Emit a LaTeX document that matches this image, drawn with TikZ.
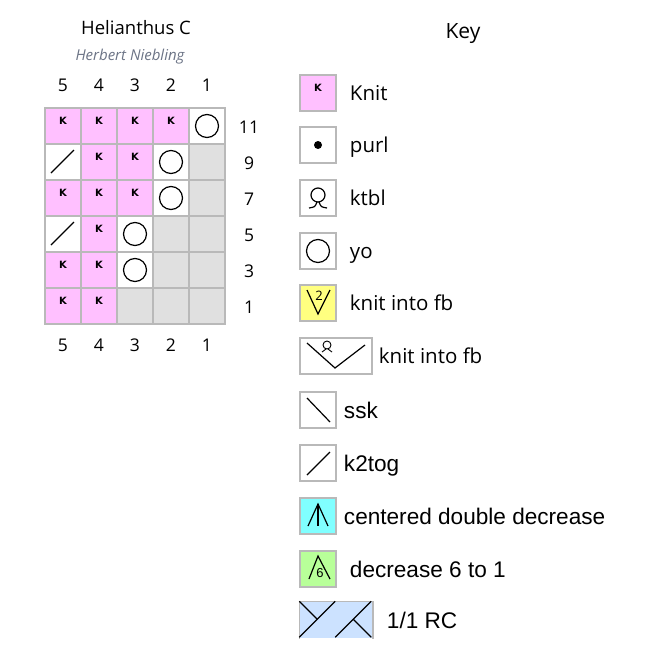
\documentclass[tikz,border=0pt]{standalone}
\usepackage{fontspec}
\setmainfont{Open Sans}
\newfontfamily\arialfont{Liberation Sans}
\newfontfamily\kglyphfont{DejaVu Sans}
\usetikzlibrary{positioning}

\definecolor{grid}{RGB}{185,185,185}
\definecolor{knitpink}{RGB}{255,192,255}
\definecolor{nostitch}{RGB}{224,224,224}
\definecolor{kfbyellow}{RGB}{255,255,128}
\definecolor{cddcyan}{RGB}{128,255,255}
\definecolor{decgreen}{RGB}{184,255,153}
\definecolor{rcblue}{RGB}{204,226,255}
\definecolor{signature}{RGB}{108,116,134}

\tikzstyle{cell} = [draw=grid, line width=1.5pt, minimum size=36pt, inner sep=0pt, fill=white]
\tikzstyle{knit} = [cell, fill=knitpink, label={[font=\kglyphfont\bfseries\fontsize{10}{10}\selectfont, yshift=5pt]center:K}]
\tikzstyle{none} = [cell, fill=nostitch]
\tikzstyle{sym} = [draw=black, line width=1.2pt]
\tikzstyle{num} = [font=\fontsize{17.5}{20}\selectfont, inner sep=0pt, text height=12.5pt, text depth=0pt]
\tikzstyle{lbl} = [font=\fontsize{20.5}{24}\selectfont, inner sep=0pt, text height=14.6pt, text depth=0pt]
\tikzstyle{albl} = [font=\arialfont\fontsize{22.6}{26}\selectfont, inner sep=0pt, text height=16.2pt, text depth=0pt]

\begin{document}
\begin{tikzpicture}[x=1pt, y=-1pt]
    \fill[white] (0,0) rectangle (650,669);
    \useasboundingbox (0,0) rectangle (650,669);

    % heading
    \node[font=\fontsize{18.5}{22}\selectfont] (title) at (136,28) {Helianthus C};
    \node[font=\itshape\fontsize{15}{18}\selectfont, text=signature] (designer) at (130,57) {Herbert Niebling};
    \node[font=\fontsize{21}{25}\selectfont] (keyhead) at (463,34) {Key};

    % column numbers
    \node[num] (top5) at (63,85) {5};
    \node[num] (top4) at (99,85) {4};
    \node[num] (top3) at (135,85) {3};
    \node[num] (top2) at (171,85) {2};
    \node[num] (top1) at (207,85) {1};
    \node[num] (bot5) at (63,345) {5};
    \node[num] (bot4) at (99,345) {4};
    \node[num] (bot3) at (135,345) {3};
    \node[num] (bot2) at (171,345) {2};
    \node[num] (bot1) at (207,345) {1};

    % chart, row 11 at the top
    \node[knit] (r11c5) at (63,126) {};
    \node[knit] (r11c4) at (99,126) {};
    \node[knit] (r11c3) at (135,126) {};
    \node[knit] (r11c2) at (171,126) {};
    \node[cell] (r11c1) at (207,126) {};

    \node[cell] (r9c5) at (63,162) {};
    \node[knit] (r9c4) at (99,162) {};
    \node[knit] (r9c3) at (135,162) {};
    \node[cell] (r9c2) at (171,162) {};
    \node[none] (r9c1) at (207,162) {};

    \node[knit] (r7c5) at (63,198) {};
    \node[knit] (r7c4) at (99,198) {};
    \node[knit] (r7c3) at (135,198) {};
    \node[cell] (r7c2) at (171,198) {};
    \node[none] (r7c1) at (207,198) {};

    \node[cell] (r5c5) at (63,234) {};
    \node[knit] (r5c4) at (99,234) {};
    \node[cell] (r5c3) at (135,234) {};
    \node[none] (r5c2) at (171,234) {};
    \node[none] (r5c1) at (207,234) {};

    \node[knit] (r3c5) at (63,270) {};
    \node[knit] (r3c4) at (99,270) {};
    \node[cell] (r3c3) at (135,270) {};
    \node[none] (r3c2) at (171,270) {};
    \node[none] (r3c1) at (207,270) {};

    \node[knit] (r1c5) at (63,306) {};
    \node[knit] (r1c4) at (99,306) {};
    \node[none] (r1c3) at (135,306) {};
    \node[none] (r1c2) at (171,306) {};
    \node[none] (r1c1) at (207,306) {};

    % yarn overs and k2tog in the chart
    \draw[sym] (r11c1.center) circle (11.5pt);
    \draw[sym] (r9c2.center) circle (11.5pt);
    \draw[sym] (r7c2.center) circle (11.5pt);
    \draw[sym] (r5c3.center) circle (11.5pt);
    \draw[sym] (r3c3.center) circle (11.5pt);
    \draw[sym] (r9c5.center) +(-12,11) -- +(11,-12);
    \draw[sym] (r5c5.center) +(-12,11) -- +(11,-12);

    % row numbers
    \node[num] (row11) at (249,127) {11};
    \node[num] (row9) at (249,163) {9};
    \node[num] (row7) at (249,199) {7};
    \node[num] (row5) at (249,235) {5};
    \node[num] (row3) at (249,271) {3};
    \node[num] (row1) at (249,307) {1};

    % key boxes
    \node[knit] (kKnit) at (318,93) {};
    \node[cell] (kPurl) at (318,145) {};
    \node[cell] (kKtbl) at (318,198) {};
    \node[cell] (kYo) at (318,251) {};
    \node[cell, fill=kfbyellow] (kKfb) at (318,303) {};
    \node[cell, minimum width=72pt] (kKfbW) at (336,356) {};
    \node[cell] (kSsk) at (318,410) {};
    \node[cell] (kKtog) at (318,463) {};
    \node[cell, fill=cddcyan] (kCdd) at (318,516) {};
    \node[cell, fill=decgreen] (kDec) at (318,569) {};
    \node[cell, draw=none, fill=rcblue, minimum width=72pt] (kRc) at (336,620) {};
    \draw[draw=grid, line width=1.5pt] (kRc.south west) |- (kRc.north east) -- (kRc.south east);

    % key labels
    \node[lbl, right=13pt of kKnit] (tKnit) {Knit};
    \node[lbl, right=13pt of kPurl] (tPurl) {purl};
    \node[lbl, right=13pt of kKtbl] (tKtbl) {ktbl};
    \node[lbl, right=13pt of kYo] (tYo) {yo};
    \node[lbl, right=13pt of kKfb] (tKfb) {knit into fb};
    \node[lbl, right=6pt of kKfbW] (tKfbW) {knit into fb};
    \node[albl, right=7pt of kSsk] (tSsk) {ssk};
    \node[albl, right=7pt of kKtog] (tKtog) {k2tog};
    \node[albl, right=7pt of kCdd] (tCdd) {centered double decrease};
    \node[albl, right=13pt of kDec] (tDec) {decrease 6 to 1};
    \node[albl, right=14pt of kRc] (tRc) {1/1 RC};

    % key symbols
    \fill (kPurl.center) circle (4pt);
    \begin{scope}[shift={(kKtbl.center)}]
        \draw[sym] (0,-3) circle (7pt);
        \draw[sym] (-1,4) .. controls (-3,9) .. (-9,10);
        \draw[sym] (1,4) .. controls (3,9) .. (9,10);
    \end{scope}
    \draw[sym] (kYo.center) circle (11.5pt);
    \begin{scope}[shift={(kKfb.center)}]
        \draw[sym] (-11,-13) -- (0,11) -- (12,-13);
        \node[font=\fontsize{13}{13}\selectfont, inner sep=0pt] (kfbtwo) at (1,-7) {2};
    \end{scope}
    \begin{scope}[shift={(kKfbW.center)}]
        \draw[sym] (-29,-13) -- (-1,12) -- (29,-11);
        \draw[line width=0.9pt] (-9,-11) circle (4pt);
        \draw[line width=0.9pt] (-10,-7) -- (-14,-4);
        \draw[line width=0.9pt] (-8,-7) -- (-4,-4);
    \end{scope}
    \draw[sym] (kSsk.center) +(-11,-12) -- +(12,12);
    \draw[sym] (kKtog.center) +(-11,12) -- +(12,-11);
    \begin{scope}[shift={(kCdd.center)}]
        \draw[sym] (-10,10) -- (0,-12) -- (10,10);
        \draw[sym] (0,-12) -- (0,10);
    \end{scope}
    \begin{scope}[shift={(kDec.center)}]
        \draw[sym] (-9,10) -- (0,-13) -- (12,10);
        \node[font=\arialfont\fontsize{13}{13}\selectfont, inner sep=0pt] (decsix) at (2,4) {6};
    \end{scope}
    \begin{scope}[shift={(kRc.north west)}]
        \draw[sym] (0,36) -- (36,0);
        \draw[sym] (0,0) -- (18,18);
        \draw[sym] (36,36) -- (72,0);
        \draw[sym] (54,18) -- (72,36);
    \end{scope}
\end{tikzpicture}
\end{document}
